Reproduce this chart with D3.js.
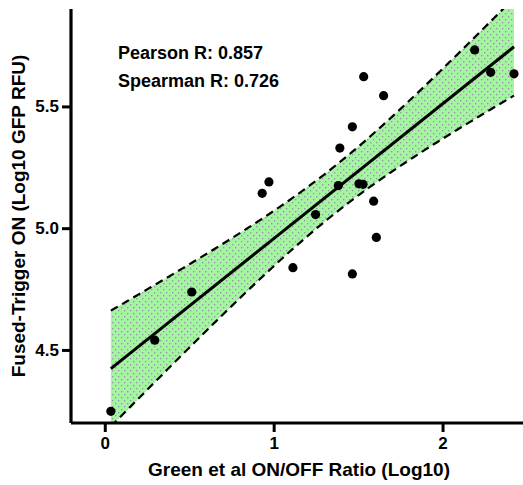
<!DOCTYPE html>
<html><head><meta charset="utf-8">
<script src="https://cdn.jsdelivr.net/npm/d3@7"></script>
<style>body{margin:0;background:#fff}svg{display:block}text{font-family:"Liberation Sans",Arial,Helvetica,sans-serif;font-weight:bold;fill:#000}</style>
</head><body>
<script>
const xValues = [0.036,0.296,0.515,0.932,0.972,1.114,1.248,1.383,1.392,1.466,1.466,1.505,1.529,1.533,1.592,1.608,1.651,2.190,2.285,2.423];
const yValues = [4.248,4.540,4.738,5.143,5.190,4.838,5.056,5.175,5.329,5.416,4.812,5.182,5.180,5.622,5.111,4.962,5.544,5.732,5.640,5.634];
const xTicks = [0,1,2];
const yTicks = [4.5,5.0,5.5];
const statLabels = ["Pearson R: 0.857","Spearman R: 0.726"];
const xTitle = "Green et al ON/OFF Ratio (Log10)";
const yTitle = "Fused-Trigger ON (Log10 GFP RFU)";
const tCrit = 2.101; // 95% two-sided, df = n-2 = 18

const W=523,H=485;
const svg=d3.select("body").append("svg").attr("width",W).attr("height",H);
const x=d3.scaleLinear().domain([-0.2,2.5]).range([71,527]);
const y=d3.scaleLinear().domain([4.2,5.9]).range([423,9]);

// linear regression + 95% confidence band
const n=xValues.length, mx=d3.mean(xValues), my=d3.mean(yValues);
let sxx=0,sxy=0; xValues.forEach((v,i)=>{sxx+=(v-mx)**2;sxy+=(v-mx)*(yValues[i]-my);});
const b=sxy/sxx, a=my-b*mx;
let sse=0; xValues.forEach((v,i)=>{sse+=(yValues[i]-(a+b*v))**2;});
const s=Math.sqrt(sse/(n-2));
const [x0,x1]=d3.extent(xValues);
const band=d3.range(0,101).map(k=>{const xv=x0+(x1-x0)*k/100;const f=a+b*xv;const h=tCrit*s*Math.sqrt(1/n+(xv-mx)**2/sxx);return {x:xv,lo:f-h,hi:f+h};});

const defs=svg.append("defs");
defs.append("clipPath").attr("id","clip").append("rect").attr("x",71).attr("y",y(5.9)).attr("width",W).attr("height",y(4.2)-y(5.9));
const pat=defs.append("pattern").attr("id","dots").attr("patternUnits","userSpaceOnUse").attr("width",6).attr("height",6);
pat.append("rect").attr("width",6).attr("height",6).attr("fill","#a5f4a1");
pat.append("rect").attr("x",1).attr("y",1).attr("width",1.3).attr("height",1.3).attr("fill","#9593a6");
pat.append("rect").attr("x",4).attr("y",4).attr("width",1.3).attr("height",1.3).attr("fill","#9593a6");

const g=svg.append("g").attr("clip-path","url(#clip)");
g.append("path").datum(band).attr("fill","url(#dots)")
 .attr("d",d3.area().x(d=>x(d.x)).y0(d=>y(d.lo)).y1(d=>y(d.hi)));
["hi","lo"].forEach(k=>{
 g.append("path").datum(band).attr("fill","none").attr("stroke","#000").attr("stroke-width",2.2)
  .attr("stroke-dasharray","8,5").attr("d",d3.line().x(d=>x(d.x)).y(d=>y(d[k])));
});
g.append("line").attr("x1",x(x0)).attr("x2",x(x1)).attr("y1",y(a+b*x0)).attr("y2",y(a+b*x1))
 .attr("stroke","#000").attr("stroke-width",3);
svg.append("g").selectAll("circle").data(xValues).join("circle")
 .attr("cx",d=>x(d)).attr("cy",(d,i)=>y(yValues[i])).attr("r",4.6).attr("fill","#000");

// axes
const xa=svg.append("g").attr("transform","translate(0,423)")
 .call(d3.axisBottom(x).tickValues(xTicks).tickFormat(d3.format("d")).tickSize(9).tickPadding(5));
const ya=svg.append("g").attr("transform","translate(71,0)")
 .call(d3.axisLeft(y).tickValues(yTicks).tickFormat(d3.format(".1f")).tickSize(9).tickPadding(3));
[xa,ya].forEach(ax=>{
 ax.select(".domain").attr("stroke","#000").attr("stroke-width",3.2);
 ax.selectAll(".tick line").attr("stroke","#000").attr("stroke-width",3);
 ax.selectAll(".tick text").attr("font-size",17).attr("font-family",'"Liberation Sans",Arial,sans-serif').attr("font-weight","bold").attr("fill","#000");
});
ya.select(".domain").attr("d","M0,9V423");
xa.select(".domain").attr("d","M71,0H527");

svg.selectAll(".stat").data(statLabels).join("text").attr("class","stat")
 .attr("x",118).attr("y",(d,i)=>59+i*28).attr("font-size",18).text(d=>d);
svg.append("text").attr("x",299).attr("y",476).attr("text-anchor","middle").attr("font-size",19).text(xTitle);
svg.append("text").attr("transform","translate(25,216) rotate(-90)").attr("text-anchor","middle").attr("font-size",19).text(yTitle);
</script>
</body></html>
